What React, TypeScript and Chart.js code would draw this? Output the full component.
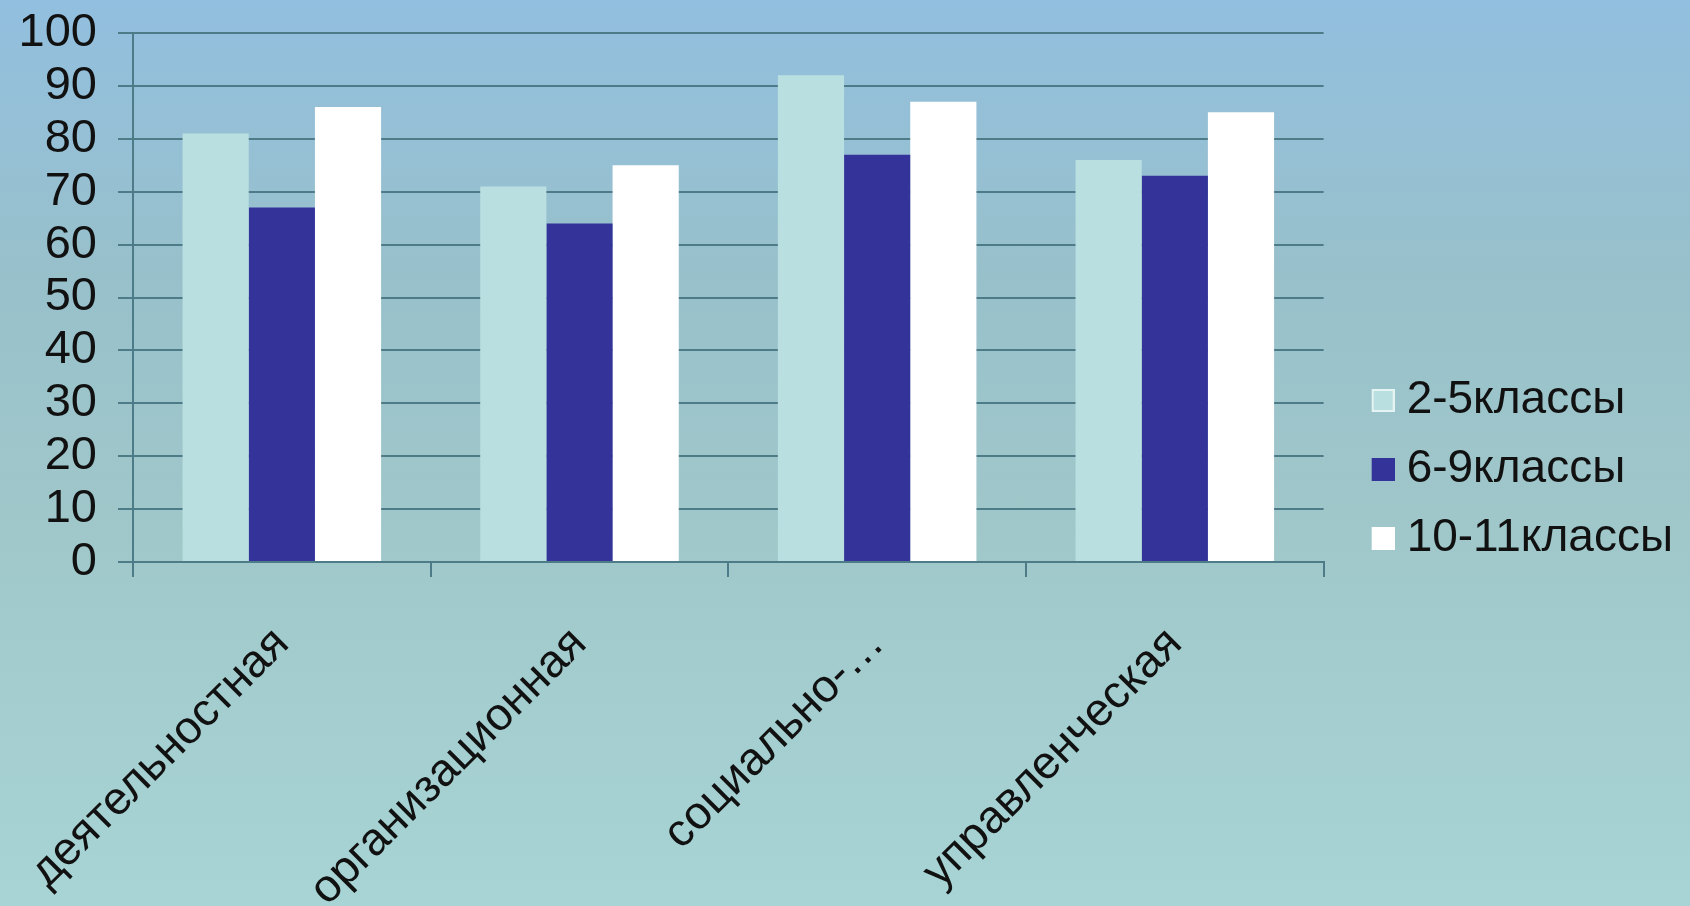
import React, { useEffect, useRef } from "react";
import { Chart, registerables } from "chart.js";

Chart.register(...registerables);

const categories = ["деятельностная", "организационная", "социально-…", "управленческая"];
const seriesNames = ["2-5классы", "6-9классы", "10-11классы"];
const grades2to5 = [81, 71, 92, 76];
const grades6to9 = [67, 64, 77, 73];
const grades10to11 = [86, 75, 87, 85];
const seriesColors = ["#B9DFE0", "#333399", "#FFFFFF"];
const legendBorders = ["#E6F3F3", "#333399", "#FFFFFF"];
const yTicks = [0, 10, 20, 30, 40, 50, 60, 70, 80, 90, 100];

const FONT = "'Liberation Sans', Arial, sans-serif";
const LINE = "#4E7B88";

function makeMarker(fill: string, border: string) {
  // legend marker: a 23px square drawn at the right side of a wider transparent image
  const c = document.createElement("canvas");
  c.width = 59;
  c.height = 23;
  const g = c.getContext("2d")!;
  g.fillStyle = border;
  g.fillRect(36, 0, 23, 23);
  g.fillStyle = fill;
  g.fillRect(38, 2, 19, 19);
  return c;
}

export default function App() {
  const ref = useRef<HTMLCanvasElement | null>(null);

  useEffect(() => {
    document.body.style.margin = "0";
    const canvas = ref.current;
    if (!canvas) return;
    const values = [grades2to5, grades6to9, grades10to11];
    const markers = seriesColors.map((c, i) => makeMarker(c, legendBorders[i]));
    const chart = new Chart(canvas, {
      type: "bar",
      data: {
        labels: categories,
        datasets: seriesNames.map((name, i) => ({
          label: name,
          data: values[i],
          backgroundColor: seriesColors[i],
          borderColor: seriesColors[i],
          borderWidth: 0,
          barPercentage: 1,
          categoryPercentage: 0.667,
        })),
      },
      options: {
        animation: false,
        responsive: false,
        devicePixelRatio: 1,
        layout: { padding: { top: 33, left: 0, right: 7, bottom: 0 } },
        plugins: {
          tooltip: { enabled: false },
          legend: {
            position: "right",
            align: "center",
            labels: {
              usePointStyle: true,
              pointStyleWidth: 37,
              boxHeight: 23,
              padding: 23,
              color: "#111111",
              font: { family: FONT, size: 46 },
              generateLabels: (ch: any) =>
                ch.data.datasets.map((ds: any, i: number) => ({
                  text: ds.label,
                  fillStyle: seriesColors[i],
                  strokeStyle: seriesColors[i],
                  lineWidth: 0,
                  pointStyle: markers[i],
                  hidden: false,
                  datasetIndex: i,
                  fontColor: "#111111",
                })),
            },
          },
        },
        scales: {
          y: {
            min: 0,
            max: 100,
            afterBuildTicks: (scale: any) => {
              scale.ticks = yTicks.map((v) => ({ value: v }));
            },
            afterFit: (scale: any) => {
              scale.width = 133;
              scale.paddingTop = 24;
              scale.paddingBottom = 24;
            },
            ticks: {
              autoSkip: false,
              color: "#111111",
              padding: 21,
              font: { family: FONT, size: 47 },
            },
            grid: { color: LINE, lineWidth: 2, tickLength: 15 },
            border: { display: true, color: LINE, width: 2 },
          },
          x: {
            afterFit: (scale: any) => {
              scale.height = 344;
              scale.paddingLeft = 0;
              scale.paddingRight = 0;
            },
            ticks: {
              color: "#111111",
              minRotation: 45,
              maxRotation: 45,
              padding: 40,
              font: { family: FONT, size: 46 },
            },
            grid: { drawOnChartArea: false, color: LINE, lineWidth: 2, tickLength: 15 },
            border: { display: true, color: LINE, width: 2 },
          },
        },
      },
    });
    return () => chart.destroy();
  }, []);

  return (
    <div
      style={{
        position: "relative",
        width: 1690,
        height: 906,
        background: "linear-gradient(to bottom, #92BFDF 0%, #98C0CB 30%, #A0C8CA 60%, #A8D4D5 100%)",
      }}
    >
      <canvas ref={ref} width={1690} height={906} style={{ display: "block", width: 1690, height: 906 }} />
    </div>
  );
}
